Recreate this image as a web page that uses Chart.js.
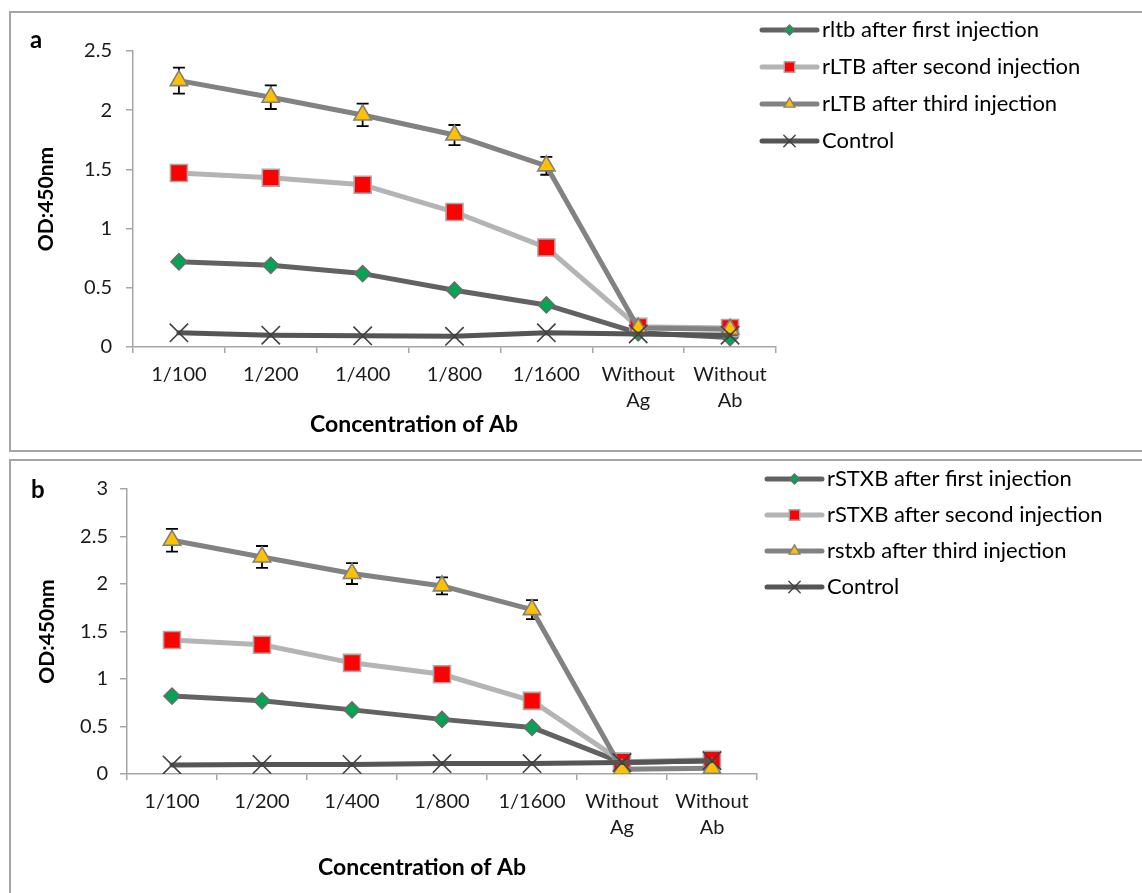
<!DOCTYPE html>
<html>
<head>
<meta charset="utf-8">
<script src="https://cdn.jsdelivr.net/npm/chart.js@4.4.0/dist/chart.umd.min.js"></script>
<style>
  body { margin: 0; background: #fff; width: 1142px; height: 893px; overflow: hidden; position: relative; font-family: Lato, sans-serif; }
  .box { position: absolute; box-sizing: border-box; border: 2px solid #a5a5a5; width: 1200px; }
  .wrap { position: absolute; }
  .letter { position: absolute; font: bold 24px/24px Lato, sans-serif; color: #000; }
</style>
</head>
<body>
<div class="box" style="left:9px; top:11px; height:441px;"></div>
<div class="box" style="left:9px; top:459px; height:500px;"></div>
<div class="wrap" style="left:10px; top:12px; width:1132px; height:439px;"><canvas id="chartA"></canvas></div>
<div class="wrap" style="left:10px; top:461px; width:1132px; height:432px;"><canvas id="chartB"></canvas></div>
<div class="letter" style="left:30px; top:27px;">a</div>
<div class="letter" style="left:31px; top:477px;">b</div>
<script>
'use strict';
// категории (разведения)
const categories = ['1/100', '1/200', '1/400', '1/800', '1/1600', ['Without', 'Ag'], ['Without', 'Ab']];

// панель a — rLTB
const labelsA = ['rltb after first injection', 'rLTB after second injection', 'rLTB after third injection', 'Control'];
const ltbFirst = [0.72, 0.69, 0.62, 0.48, 0.355, 0.12, 0.08];
const ltbSecond = [1.47, 1.43, 1.37, 1.14, 0.84, 0.17, 0.16];
const ltbThird = [2.25, 2.11, 1.96, 1.79, 1.53, 0.16, 0.15];
const ltbThirdErr = [0.11, 0.10, 0.095, 0.085, 0.075, null, null];
const ltbControl = [0.12, 0.10, 0.095, 0.09, 0.12, 0.11, 0.10];
const yMaxA = 2.5;

// панель b — rSTXB
const labelsB = ['rSTXB after first injection', 'rSTXB after second injection', 'rstxb after third injection', 'Control'];
const stxFirst = [0.82, 0.77, 0.675, 0.575, 0.49, 0.12, 0.14];
const stxSecond = [1.41, 1.36, 1.17, 1.05, 0.77, 0.13, 0.15];
const stxThird = [2.46, 2.285, 2.11, 1.98, 1.73, 0.05, 0.06];
const stxThirdErr = [0.12, 0.115, 0.11, 0.09, 0.10, null, null];
const stxControl = [0.095, 0.10, 0.10, 0.11, 0.11, 0.12, 0.14];
const yMaxB = 3;
const yStep = 0.5;

const xTitleText = 'Concentration of Ab';
const yTitleText = 'OD:450nm';

// стиль серий: линия, маркер
const seriesStyle = [
  { line: '#626262', fill: '#00a651', border: '#6b6b6b', point: 'rectRot', r: 8 },
  { line: '#b4b4b4', fill: '#ff0000', border: '#a8a8a8', point: 'rect', r: 12 },
  { line: '#828282', fill: '#ffc000', border: '#7f7f7f', point: 'triangle', r: 10 },
  { line: '#555555', fill: '#404040', border: '#404040', point: 'crossRot', r: 13 }
];

function makeDatasets(labels, series, errors) {
  return series.map((vals, i) => ({
    label: labels[i],
    data: vals,
    errors: i === 2 ? errors : null,
    borderColor: seriesStyle[i].line,
    borderWidth: 5,
    borderCapStyle: 'round',
    borderJoinStyle: 'round',
    pointStyle: seriesStyle[i].point,
    pointRadius: seriesStyle[i].r,
    pointHoverRadius: seriesStyle[i].r,
    pointBackgroundColor: seriesStyle[i].fill,
    pointBorderColor: seriesStyle[i].border,
    pointBorderWidth: 1.6,
    tension: 0,
    // последняя серия сверху, как в Excel
    order: series.length - 1 - i
  }));
}

// усы погрешностей
const errorBars = {
  id: 'errorBars',
  beforeDatasetDraw(chart, args) {
    const ds = chart.data.datasets[args.index];
    if (!ds.errors) return;
    const y = chart.scales.y;
    const ctx = chart.ctx;
    ctx.save();
    ctx.strokeStyle = '#000';
    ctx.lineWidth = 1.8;
    args.meta.data.forEach((pt, j) => {
      const e = ds.errors[j];
      if (e == null) return;
      const yt = y.getPixelForValue(ds.data[j] + e);
      const yb = y.getPixelForValue(ds.data[j] - e);
      ctx.beginPath();
      ctx.moveTo(pt.x, yt); ctx.lineTo(pt.x, yb);
      ctx.moveTo(pt.x - 6, yt); ctx.lineTo(pt.x + 6, yt);
      ctx.moveTo(pt.x - 6, yb); ctx.lineTo(pt.x + 6, yb);
      ctx.stroke();
    });
    ctx.restore();
  }
};

// легенда в стиле Excel: линия + маркер
const lineLegend = {
  id: 'lineLegend',
  afterDraw(chart, args, opts) {
    const ctx = chart.ctx;
    chart.data.datasets.forEach((ds, i) => {
      const y = opts.top + i * opts.gap;
      ctx.save();
      ctx.strokeStyle = ds.borderColor;
      ctx.lineWidth = 5;
      ctx.lineCap = 'round';
      ctx.beginPath();
      ctx.moveTo(opts.x1, y);
      ctx.lineTo(opts.x2, y);
      ctx.stroke();
      ctx.fillStyle = ds.pointBackgroundColor;
      ctx.strokeStyle = ds.pointBorderColor;
      ctx.lineWidth = 1.4;
      Chart.helpers.drawPoint(ctx, {
        pointStyle: ds.pointStyle, rotation: 0,
        radius: ds.pointRadius * 0.62, borderWidth: 1.4
      }, (opts.x1 + opts.x2) / 2, y);
      ctx.fillStyle = '#000';
      ctx.font = '22px Lato';
      ctx.textBaseline = 'middle';
      ctx.textAlign = 'left';
      ctx.fillText(ds.label, opts.x2 + 5, y);
      ctx.restore();
    });
  }
};

// подпись оси X (в Excel она смещена влево от центра)
const xTitle = {
  id: 'xTitle',
  afterDraw(chart, args, opts) {
    const ctx = chart.ctx;
    ctx.save();
    ctx.fillStyle = '#000';
    ctx.font = 'bold 23px Lato';
    ctx.textAlign = 'center';
    ctx.textBaseline = 'middle';
    ctx.fillText(opts.text, opts.x, opts.y);
    ctx.restore();
  }
};

function makeChart(id, labels, series, errors, yMax, g) {
  const axisGray = '#a6a6a6';
  return new Chart(document.getElementById(id), {
    type: 'line',
    data: { labels: categories, datasets: makeDatasets(labels, series, errors) },
    plugins: [errorBars, lineLegend, xTitle],
    options: {
      responsive: true,
      maintainAspectRatio: false,
      animation: false,
      layout: { padding: { left: 0, right: g.right, top: g.top, bottom: 0 } },
      plugins: {
        legend: { display: false },
        tooltip: { enabled: false },
        lineLegend: g.legend,
        xTitle: { text: xTitleText, x: g.titleX, y: g.titleY }
      },
      scales: {
        x: {
          offset: true,
          ticks: { font: { family: 'Lato', size: 20, lineHeight: 1.3 }, color: '#1a1a1a', padding: 9, maxRotation: 0, autoSkip: false },
          grid: { offset: true, drawOnChartArea: false, tickLength: 6, color: axisGray, lineWidth: 1.5 },
          border: { color: axisGray, width: 1.5 },
          afterFit(scale) { scale.height = g.xHeight; }
        },
        y: {
          min: 0,
          max: yMax,
          ticks: { stepSize: yStep, font: { family: 'Lato', size: 20 }, color: '#1a1a1a', padding: g.tickPad, callback: v => String(v) },
          grid: { drawOnChartArea: false, tickLength: 7, color: axisGray, lineWidth: 1.5 },
          border: { color: axisGray, width: 1.5 },
          title: { display: true, text: yTitleText, color: '#000', font: { family: 'Lato', size: 21, weight: 'bold' }, padding: { top: g.yTitlePad, bottom: 0 } },
          afterFit(scale) { scale.width = g.yWidth; }
        }
      }
    }
  });
}

makeChart('chartA', labelsA, [ltbFirst, ltbSecond, ltbThird, ltbControl], ltbThirdErr, yMaxA, {
  right: 366, top: 39, xHeight: 104, yWidth: 123, tickPad: 14, yTitlePad: 24,
  titleX: 404, titleY: 413,
  legend: { x1: 752, x2: 807, top: 18, gap: 37 }
});

makeChart('chartB', labelsB, [stxFirst, stxSecond, stxThird, stxControl], stxThirdErr, yMaxB, {
  right: 385, top: 28, xHeight: 119, yWidth: 117, tickPad: 12, yTitlePad: 25,
  titleX: 412, titleY: 407,
  legend: { x1: 757, x2: 812, top: 18, gap: 36 }
});
</script>
</body>
</html>
